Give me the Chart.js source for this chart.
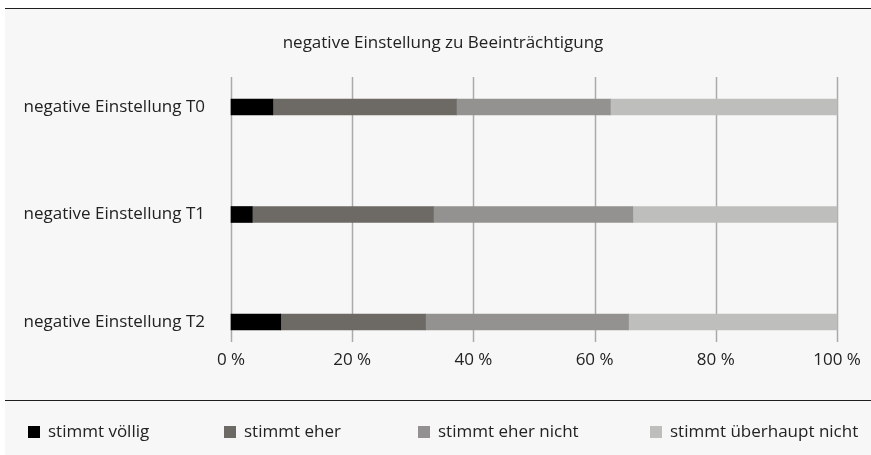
<!DOCTYPE html>
<html><head><meta charset="utf-8">
<script src="https://cdn.jsdelivr.net/npm/chart.js@4"></script>
<style>html,body{margin:0;padding:0;background:#fff;}#wrap{width:871px;height:455px;}</style>
</head><body><div id="wrap"><canvas id="c" width="871" height="455"></canvas></div>
<script>
const title = 'negative Einstellung zu Beeinträchtigung';
const categories = ['negative Einstellung T0', 'negative Einstellung T1', 'negative Einstellung T2'];
const seriesNames = ['stimmt völlig', 'stimmt eher', 'stimmt eher nicht', 'stimmt überhaupt nicht'];
const stimmtVoellig = [6.9, 3.5, 8.2];
const stimmtEher = [30.3, 29.9, 23.9];
const stimmtEherNicht = [25.4, 32.9, 33.5];
const stimmtUeberhauptNicht = [37.4, 33.7, 34.4];
const xTicks = [0, 20, 40, 60, 80, 100];

const colors = ['#000000', '#6d6965', '#939290', '#bebebc'];
const legendX = [28, 224, 418, 650];
const FONT = '"Open Sans", sans-serif';
const FS = 17;
const TEXT = '#222222';

const values = [stimmtVoellig, stimmtEher, stimmtEherNicht, stimmtUeberhauptNicht];

const decor = {
  id: 'decor',
  beforeDraw(chart) {
    const ctx = chart.ctx;
    ctx.save();
    ctx.fillStyle = '#ffffff';
    ctx.fillRect(0, 0, chart.width, chart.height);
    ctx.fillStyle = '#f7f7f7';
    ctx.fillRect(5, 8, chart.width - 5, chart.height - 8);
    ctx.strokeStyle = '#1e1e1e';
    ctx.lineWidth = 1;
    ctx.beginPath();
    ctx.moveTo(5, 8.5); ctx.lineTo(chart.width, 8.5);
    ctx.moveTo(5, 400.5); ctx.lineTo(chart.width, 400.5);
    ctx.stroke();
    ctx.restore();
  },
  beforeDatasetsDraw(chart) {
    const ctx = chart.ctx;
    const xs = chart.scales.x;
    ctx.save();
    ctx.strokeStyle = '#aaaaaa';
    ctx.lineWidth = 1.5;
    ctx.beginPath();
    xTicks.forEach(v => {
      const px = Math.round(xs.getPixelForValue(v)) + 0.5;
      ctx.moveTo(px, 77); ctx.lineTo(px, 342);
    });
    ctx.stroke();
    ctx.restore();
  },
  afterDraw(chart) {
    const ctx = chart.ctx;
    ctx.save();
    ctx.font = FS + 'px ' + FONT;
    ctx.textBaseline = 'middle';
    ctx.fillStyle = TEXT;
    ctx.textAlign = 'center';
    ctx.fillText(title, 443, 43);
    ctx.textAlign = 'left';
    chart.data.datasets.forEach((ds, i) => {
      const x = legendX[i];
      ctx.fillStyle = ds.backgroundColor;
      ctx.fillRect(x, 426, 12, 12);
      ctx.fillStyle = TEXT;
      ctx.fillText(ds.label, x + 20, 432);
    });
    ctx.restore();
  }
};

new Chart(document.getElementById('c'), {
  type: 'bar',
  data: {
    labels: categories,
    datasets: seriesNames.map((n, i) => ({
      label: n,
      data: values[i],
      backgroundColor: colors[i],
      barThickness: 16,
      borderWidth: 0,
      clip: false
    }))
  },
  options: {
    indexAxis: 'y',
    responsive: false,
    animation: false,
    layout: { padding: { left: 0, right: 34, top: 107, bottom: 0 } },
    plugins: {
      legend: { display: false },
      tooltip: { enabled: false },
      title: { display: false }
    },
    scales: {
      x: {
        stacked: true,
        min: 0, max: 100,
        afterBuildTicks(scale) { scale.ticks = xTicks.map(v => ({ value: v })); },
        afterFit(scale) { scale.height = 133; scale.paddingLeft = 0; scale.paddingRight = 0; },
        grid: { display: false, drawTicks: false },
        border: { display: false },
        ticks: {
          padding: 28,
          color: TEXT,
          font: { family: FONT, size: FS },
          callback: v => v + ' %'
        }
      },
      y: {
        stacked: true,
        offset: false,
        afterFit(scale) { scale.width = 231; scale.paddingTop = 0; scale.paddingBottom = 0; },
        grid: { display: false, drawTicks: false },
        border: { display: false },
        ticks: {
          padding: 26,
          color: TEXT,
          font: { family: FONT, size: FS }
        }
      }
    }
  },
  plugins: [decor]
});
</script>
</body></html>
